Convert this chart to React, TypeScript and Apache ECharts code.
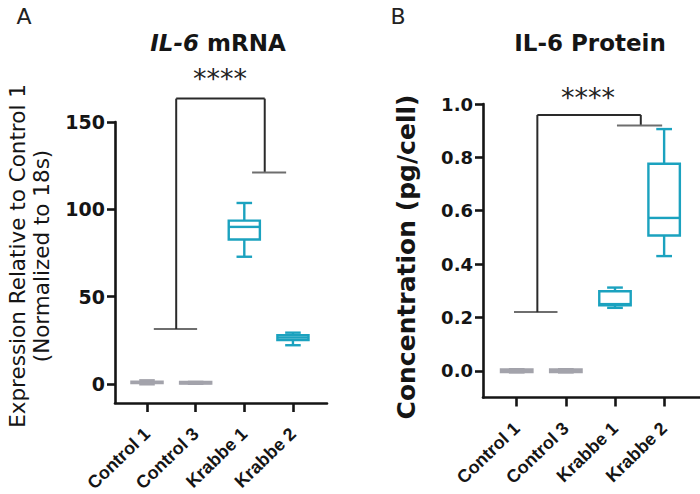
import React, { useEffect, useRef } from 'react';
import * as echarts from 'echarts';

const categories = ['Control 1', 'Control 3', 'Krabbe 1', 'Krabbe 2'];
const positions = [1, 2, 3, 4];
const groupColors = ['#a3a3ab', '#a3a3ab', '#1ba2bf', '#1ba2bf'];

// [min, q1, median, q3, max]
const mrnaBoxes = [
  [-0.3, 0.5, 0.9, 1.2, 2.0],
  [0.0, 0.1, 0.4, 1.0, 1.1],
  [72.8, 82.7, 89.9, 93.5, 103.6],
  [22.1, 25.1, 26.5, 27.8, 29.3],
];
const proteinBoxes = [
  [-0.006, -0.005, 0.0, 0.005, 0.006],
  [-0.006, -0.005, 0.0, 0.005, 0.006],
  [0.236, 0.246, 0.25, 0.298, 0.312],
  [0.43, 0.507, 0.573, 0.776, 0.906],
];

const mrnaTicks = [0, 50, 100, 150];
const proteinTicks = [0, 0.2, 0.4, 0.6, 0.8, 1.0];

// bracket segments: [x1, y1, x2, y2, kind] kind 0 = leg (dark), 1 = group line (grey)
const mrnaBracket = [
  [1.14, 31.4, 2.03, 31.4, 1],
  [1.6, 31.4, 1.6, 163.4, 0],
  [1.6, 163.4, 3.42, 163.4, 0],
  [3.42, 163.4, 3.42, 121, 0],
  [3.16, 121, 3.86, 121, 1],
];
const proteinBracket = [
  [0.945, 0.22, 1.83, 0.22, 1],
  [1.42, 0.22, 1.42, 0.959, 0],
  [1.42, 0.959, 3.525, 0.959, 0],
  [3.525, 0.959, 3.525, 0.919, 0],
  [3.04, 0.919, 3.96, 0.919, 1],
];
const mrnaStars = [[2.5, 175]];
const proteinStars = [[2.45, 1.025]];
const starText = '****';

const FONT = 'DejaVu Sans';
const LABEL_FONT = 'Liberation Sans';
const AXIS = '#151515';

function boxRender(params: any, api: any) {
  const x = api.value(0);
  const mn = api.value(1), q1 = api.value(2), md = api.value(3), q3 = api.value(4), mx = api.value(5);
  const unit = api.size([1, 0])[0];
  const bw = unit * 0.64;
  const cw = unit * 0.32;
  const pMin = api.coord([x, mn]);
  const pQ1 = api.coord([x, q1]);
  const pMd = api.coord([x, md]);
  const pQ3 = api.coord([x, q3]);
  const pMax = api.coord([x, mx]);
  const cx = pMd[0];
  const color = api.visual('color');
  const st = { stroke: color, lineWidth: 2.4, fill: 'none' };
  return {
    type: 'group',
    children: [
      { type: 'line', shape: { x1: cx, y1: pQ3[1], x2: cx, y2: pMax[1] }, style: st },
      { type: 'line', shape: { x1: cx, y1: pQ1[1], x2: cx, y2: pMin[1] }, style: st },
      { type: 'line', shape: { x1: cx - cw / 2, y1: pMax[1], x2: cx + cw / 2, y2: pMax[1] }, style: st },
      { type: 'line', shape: { x1: cx - cw / 2, y1: pMin[1], x2: cx + cw / 2, y2: pMin[1] }, style: st },
      { type: 'rect', shape: { x: cx - bw / 2, y: pQ3[1], width: bw, height: pQ1[1] - pQ3[1] }, style: { ...st, fill: '#fff' } },
      { type: 'line', shape: { x1: cx - bw / 2, y1: pMd[1], x2: cx + bw / 2, y2: pMd[1] }, style: st },
    ],
  };
}

function bracketRender(params: any, api: any) {
  const a = api.coord([api.value(0), api.value(1)]);
  const b = api.coord([api.value(2), api.value(3)]);
  const kind = api.value(4);
  return {
    type: 'line',
    shape: { x1: a[0], y1: a[1], x2: b[0], y2: b[1] },
    style: { stroke: kind === 0 ? '#2a2a2a' : '#6e6e6e', lineWidth: 2 },
  };
}

function starRender(params: any, api: any) {
  const p = api.coord([api.value(0), api.value(1)]);
  return {
    type: 'text',
    x: p[0],
    y: p[1],
    style: { text: starText, fontFamily: FONT, fontSize: 27, fill: '#222', align: 'center', verticalAlign: 'middle' },
  };
}

function xAxisCfg(gridIndex: number, min: number, max: number) {
  return {
    gridIndex,
    type: 'value',
    min,
    max,
    axisLine: { show: true, onZero: false, lineStyle: { color: AXIS, width: 2.6 } },
    axisTick: { show: true, customValues: positions, length: 9, lineStyle: { color: AXIS, width: 2.6 } },
    axisLabel: {
      customValues: positions,
      formatter: (v: number) => categories[Math.round(v) - 1] ?? '',
      rotate: 44,
      margin: 28,
      fontFamily: LABEL_FONT,
      fontWeight: 'bold',
      fontSize: 18,
      color: '#151515',
    },
    splitLine: { show: false },
  };
}

function yAxisCfg(gridIndex: number, min: number, max: number, ticks: number[], fmt: (v: number) => string, fs: number) {
  return {
    gridIndex,
    type: 'value',
    min,
    max,
    axisLine: { show: true, onZero: false, lineStyle: { color: AXIS, width: 2.6 } },
    axisTick: { show: true, customValues: ticks, length: 8, lineStyle: { color: AXIS, width: 2.6 } },
    axisLabel: { customValues: ticks, formatter: fmt, margin: 10, fontFamily: FONT, fontWeight: 'bold', fontSize: fs, color: '#151515' },
    splitLine: { show: false },
  };
}

export default function App() {
  const ref = useRef<HTMLDivElement>(null);
  useEffect(() => {
    if (!ref.current) return;
    const chart = echarts.init(ref.current, undefined, { renderer: 'svg' });
    const boxData = (arr: number[][]) =>
      arr.map((b, i) => ({ value: [positions[i], ...b], itemStyle: { color: groupColors[i] } }));
    chart.setOption({
      animation: false,
      backgroundColor: '#ffffff',
      grid: [
        { left: 115, top: 122, width: 212, height: 281, containLabel: false, outerBoundsMode: 'none' },
        { left: 483, top: 104, width: 217, height: 293.5, containLabel: false, outerBoundsMode: 'none' },
      ],
      xAxis: [xAxisCfg(0, 0.342, 4.7), xAxisCfg(1, 0.314, 4.73)],
      yAxis: [
        yAxisCfg(0, -11, 150, mrnaTicks, (v: number) => String(v), 19),
        yAxisCfg(1, -0.1, 1.0, proteinTicks, (v: number) => v.toFixed(1), 18),
      ],
      series: [
        { type: 'custom', name: 'IL-6 mRNA', xAxisIndex: 0, yAxisIndex: 0, renderItem: boxRender, data: boxData(mrnaBoxes), encode: { x: 0, y: [1, 2, 3, 4, 5] } },
        { type: 'custom', name: 'IL-6 Protein', xAxisIndex: 1, yAxisIndex: 1, renderItem: boxRender, data: boxData(proteinBoxes), encode: { x: 0, y: [1, 2, 3, 4, 5] } },
        { type: 'custom', xAxisIndex: 0, yAxisIndex: 0, renderItem: bracketRender, data: mrnaBracket, encode: { x: [0, 2], y: [1, 3] }, silent: true },
        { type: 'custom', xAxisIndex: 1, yAxisIndex: 1, renderItem: bracketRender, data: proteinBracket, encode: { x: [0, 2], y: [1, 3] }, silent: true },
        { type: 'custom', xAxisIndex: 0, yAxisIndex: 0, renderItem: starRender, data: mrnaStars, silent: true },
        { type: 'custom', xAxisIndex: 1, yAxisIndex: 1, renderItem: starRender, data: proteinStars, silent: true },
      ],
      graphic: [
        { type: 'text', x: 24, y: 16, style: { text: 'A', fontFamily: FONT, fontSize: 22, fill: '#222', align: 'center', verticalAlign: 'middle' } },
        { type: 'text', x: 398, y: 16, style: { text: 'B', fontFamily: FONT, fontSize: 22, fill: '#222', align: 'center', verticalAlign: 'middle' } },
        {
          type: 'text', x: 218, y: 43,
          style: {
            text: '{i|IL-6} mRNA', fontFamily: FONT, fontSize: 23, fontWeight: 'bold', fill: '#151515', align: 'center', verticalAlign: 'middle',
            rich: { i: { fontFamily: FONT, fontSize: 23, fontWeight: 'bold', fontStyle: 'italic', fill: '#151515' } },
          },
        },
        { type: 'text', x: 590, y: 43, style: { text: 'IL-6 Protein', fontFamily: FONT, fontSize: 23, fontWeight: 'bold', fill: '#151515', align: 'center', verticalAlign: 'middle' } },
        {
          type: 'text', x: 29, y: 256, rotation: Math.PI / 2,
          style: { text: 'Expression Relative to Control 1\n(Normalized to 18s)', fontFamily: FONT, fontSize: 21.5, lineHeight: 24, fill: '#151515', align: 'center', verticalAlign: 'middle' },
        },
        {
          type: 'text', x: 406, y: 257, rotation: Math.PI / 2,
          style: { text: 'Concentration (pg/cell)', fontFamily: FONT, fontSize: 25, fontWeight: 'bold', fill: '#151515', align: 'center', verticalAlign: 'middle' },
        },
      ],
    });
    return () => chart.dispose();
  }, []);
  return <div ref={ref} style={{ position: 'absolute', left: 0, top: 0, width: 700, height: 494 }} />;
}
